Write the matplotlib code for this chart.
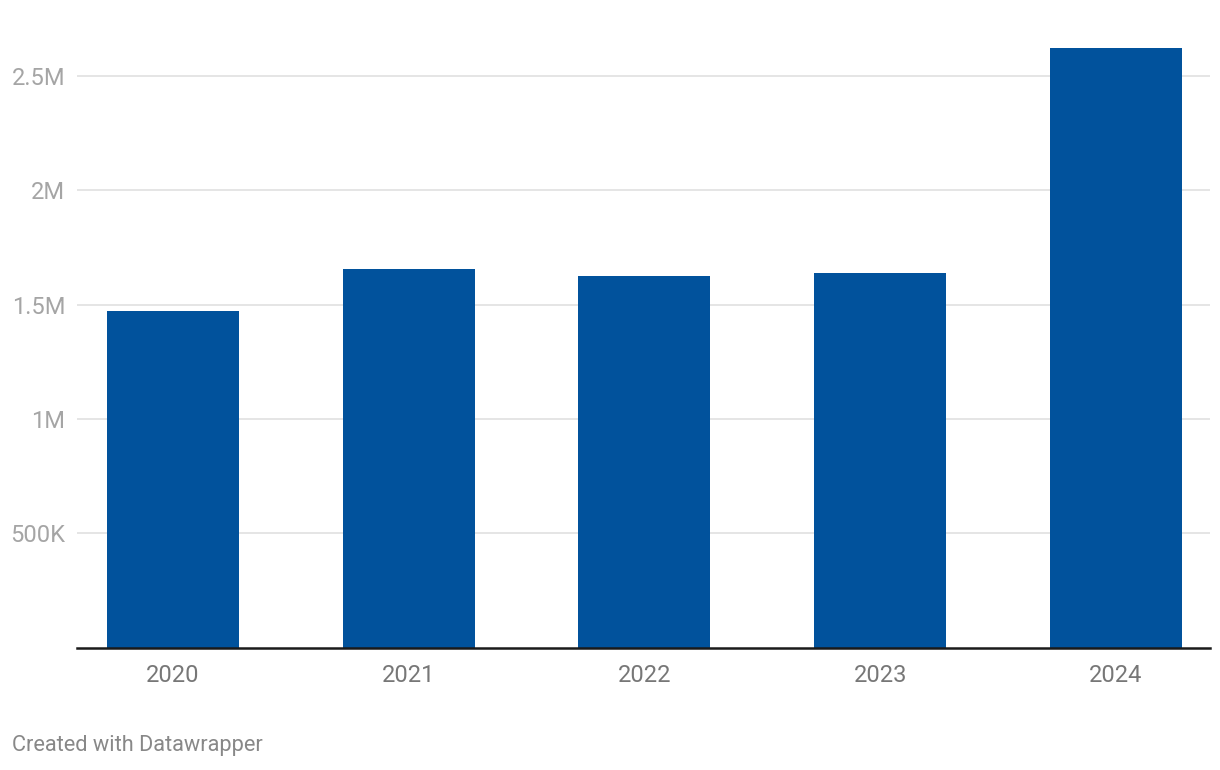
import matplotlib
matplotlib.use("Agg")
import matplotlib.pyplot as plt

years = ["2020", "2021", "2022", "2023", "2024"]
values = [1472000, 1655000, 1625000, 1638000, 2621000]
yticks = [500000, 1000000, 1500000, 2000000, 2500000]
ytick_labels = ["500K", "1M", "1.5M", "2M", "2.5M"]

plt.rcParams['font.family'] = ['Roboto', 'DejaVu Sans']

fig = plt.figure(figsize=(12.2, 7.7), dpi=100)
W, H = 1220, 770
left, right = 77 / W, 1210 / W
bottom = (H - 647.7) / H
top = (H - 30) / H
ax = fig.add_axes([left, bottom, right - left, top - bottom])

x = list(range(len(years)))
ax.bar(x, values, width=0.56, color="#01529c", zorder=3)

ax.set_ylim(0, 2.7e6)
ax.set_xlim(-0.407, 4.399)
ax.set_yticks(yticks)
ax.set_yticklabels(ytick_labels)
ax.set_xticks(x)
ax.set_xticklabels(years)

ax.grid(axis="y", color="#e3e3e3", linewidth=1.3, zorder=0)
ax.grid(axis="x", visible=False)
for s in ["top", "right", "left"]:
    ax.spines[s].set_visible(False)
ax.spines["bottom"].set_color("#1a1a1a")
ax.spines["bottom"].set_linewidth(1.8)
ax.spines["bottom"].set_zorder(4)

ax.tick_params(axis="y", length=0, pad=8.4, labelsize=17, labelcolor="#a5a5a5")
ax.tick_params(axis="x", length=0, pad=12, labelsize=17, labelcolor="#777777")

fig.text(12 / W, 1 - 746 / H, "Created with Datawrapper", fontsize=15.7,
         color="#888888", ha="left", va="center")

fig.savefig("out.png", dpi=100, facecolor="white")
